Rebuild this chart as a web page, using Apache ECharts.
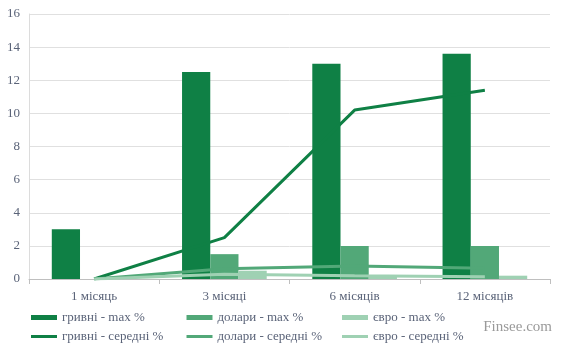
<!DOCTYPE html>
<html><head><meta charset="utf-8">
<script src="https://cdn.jsdelivr.net/npm/echarts@6/dist/echarts.min.js"></script>
<style>html,body{margin:0;padding:0;background:#fff}#c{width:565px;height:356px}</style>
</head><body><div id="c"></div>
<script>
const categories = ['1 місяць', '3 місяці', '6 місяців', '12 місяців'];
const uahMax = [3.0, 12.5, 13.0, 13.6];
const usdMax = [0, 1.5, 2.0, 2.0];
const eurMax = [0, 0.5, 0.18, 0.2];
const uahAvg = [0, 2.5, 10.2, 11.4];
const usdAvg = [0, 0.62, 0.78, 0.65];
const eurAvg = [0, 0.28, 0.2, 0.14];
const yTicks = [0, 2, 4, 6, 8, 10, 12, 14, 16];

const C1 = '#0f8045', C2 = '#52a878', C3 = '#9fd1b3';
const font = '"Liberation Serif", "DejaVu Serif", serif';
const names = ['гривні - max %', 'долари - max %', 'євро - max %', 'гривні - середні %', 'долари - середні %', 'євро - середні %'];

const chart = echarts.init(document.getElementById('c'));
const legends = names.map((n, i) => ({
  data: [n], left: 31 + (i % 3) * 155.5, top: i < 3 ? 311 : 330, padding: 0,
  icon: 'rect', itemWidth: 26, itemHeight: i < 3 ? 5 : 3, itemGap: 0,
  textStyle: { fontFamily: font, fontSize: 13, color: '#5a6378' },
  selectedMode: false
}));
chart.setOption({
  animation: false,
  grid: { left: 29, right: 15, top: 14, bottom: 77 },
  legend: legends,
  graphic: [{ type: 'text', right: 13, top: 320, style: { text: 'Finsee.com', font: '15px ' + font, fill: '#9a9a9a' } }],
  xAxis: {
    type: 'category', data: categories,
    axisLine: { lineStyle: { color: '#bfbfbf' } },
    axisTick: { show: true, length: 5, lineStyle: { color: '#bfbfbf' } },
    axisLabel: { fontFamily: font, fontSize: 13, color: '#5a6378', margin: 11 }
  },
  yAxis: {
    type: 'value', min: yTicks[0], max: yTicks[yTicks.length - 1], interval: 2,
    axisLine: { show: true, lineStyle: { color: '#dcdcdc' } },
    axisTick: { show: false },
    splitLine: { lineStyle: { color: '#e0e0e0', width: 1 } },
    axisLabel: { fontFamily: font, fontSize: 13, color: '#5a6378', margin: 9 }
  },
  series: [
    { name: names[0], type: 'bar', data: uahMax, itemStyle: { color: C1 }, barGap: '0%', barCategoryGap: '35%' },
    { name: names[1], type: 'bar', data: usdMax, itemStyle: { color: C2 } },
    { name: names[2], type: 'bar', data: eurMax, itemStyle: { color: C3 } },
    { name: names[3], type: 'line', data: uahAvg, showSymbol: false, lineStyle: { color: C1, width: 3 }, itemStyle: { color: C1 }, z: 5 },
    { name: names[4], type: 'line', data: usdAvg, showSymbol: false, lineStyle: { color: C2, width: 3 }, itemStyle: { color: C2 }, z: 5 },
    { name: names[5], type: 'line', data: eurAvg, showSymbol: false, lineStyle: { color: C3, width: 3 }, itemStyle: { color: C3 }, z: 5 }
  ]
});
</script></body></html>
